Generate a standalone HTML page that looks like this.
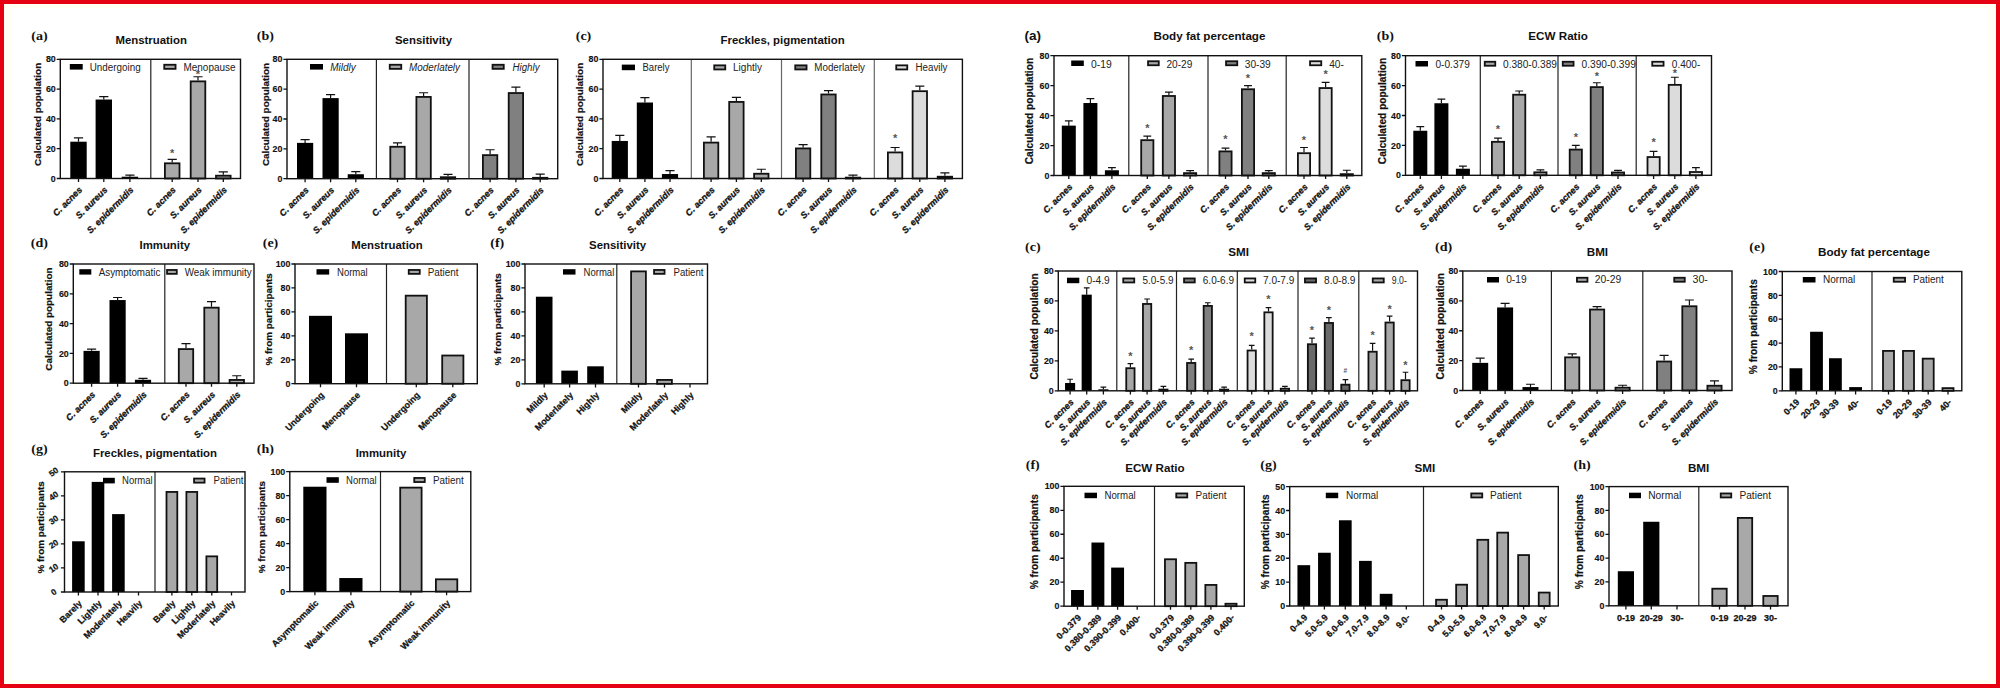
<!DOCTYPE html>
<html lang="en">
<head>
<meta charset="utf-8">
<title>Skin microbiome charts</title>
<style>
html,body{margin:0;padding:0;background:#fff;}
body{width:2000px;height:688px;overflow:hidden;position:relative;font-family:"Liberation Sans", Arial, Helvetica, sans-serif;}
#wrap{position:absolute;left:0;top:0;width:2000px;height:688px;box-sizing:border-box;border:4px solid #e50012;background:#fff;
 box-shadow:inset 0 0 0 4px #fffff4, inset 8px 0 0 0 #fffff6, inset -8px 0 0 0 #fffff6;}
svg{position:absolute;left:0;top:0;}
text{font-family:"Liberation Sans", Arial, Helvetica, sans-serif;fill:#111;}
.ls{font-family:"Liberation Serif", "Times New Roman", serif;font-weight:bold;font-size:12.8px;}
.lsa{font-weight:bold;font-size:13.5px;}
.tt{font-weight:bold;font-size:11.4px;text-anchor:middle;}
.ttr{font-size:11.65px;}
.tk{font-weight:bold;font-size:9.4px;text-anchor:end;stroke:#111;stroke-width:0.15;}
.tkr{font-weight:bold;font-size:8.4px;text-anchor:middle;stroke:#111;stroke-width:0.25;}
.yl{font-weight:bold;font-size:9.9px;text-anchor:middle;stroke:#111;stroke-width:0.2;}
.ylr{font-size:10.2px;}
.lg{font-size:10.0px;fill:#222;}
.lgi{font-size:10.0px;fill:#222;font-style:italic;}
.xb{font-weight:bold;font-size:9.0px;stroke:#111;stroke-width:0.25;}
.xbi{font-weight:bold;font-style:italic;font-size:9.0px;stroke:#111;stroke-width:0.3;}
.st{font-size:11px;font-weight:bold;text-anchor:middle;fill:#555;}
.sh{font-size:6.5px;}
.fr{fill:none;stroke:#111;stroke-width:1.4;}
.tc{fill:none;stroke:#111;stroke-width:1.3;}
.er{fill:none;stroke:#111;stroke-width:1.2;}
.bs{stroke:#111;stroke-width:1.8;}
</style>
</head>
<body>
<div id="wrap"></div>
<svg width="2000" height="688" viewBox="0 0 2000 688">
<g>
<text transform="translate(31.2 40) scale(1.1 1)" class="ls">(a)</text>
<text x="151.2" y="44" class="tt">Menstruation</text>
<path d="M78.5 141.7V137.97M73.91 137.97H83.09" class="er"/>
<rect x="70.3" y="141.7" width="16.4" height="36.8" fill="#000"/>
<path d="M103.8 99.53V96.55M99.21 96.55H108.39" class="er"/>
<rect x="95.6" y="99.53" width="16.4" height="78.97" fill="#000"/>
<path d="M129.9 176.71V175.22M125.31 175.22H134.49" class="er"/>
<rect x="121.7" y="176.71" width="16.4" height="1.79" fill="#000"/>
<path d="M172.2 162.41V159.43M167.61 159.43H176.79" class="er"/>
<rect x="164.9" y="163.31" width="14.6" height="15.19" fill="#a8a8a8" class="bs"/>
<text x="172.2" y="156.8" class="st">*</text>
<path d="M198 80.46V76.73M193.41 76.73H202.59" class="er"/>
<rect x="190.7" y="81.36" width="14.6" height="97.14" fill="#a8a8a8" class="bs"/>
<text x="198" y="78.3" class="st">*</text>
<path d="M223.3 174.78V171.8M218.71 171.8H227.89" class="er"/>
<rect x="216" y="175.68" width="14.6" height="2.82" fill="#a8a8a8" class="bs"/>
<path d="M150.8 59.3V178.5" stroke="#222" stroke-width="1.2" fill="none"/>
<rect x="60.3" y="59.3" width="180.2" height="119.2" class="fr"/>
<text transform="translate(55.7 181.65) scale(0.94 1)" class="tk">0</text>
<text transform="translate(55.7 151.85) scale(0.94 1)" class="tk">20</text>
<text transform="translate(55.7 122.05) scale(0.94 1)" class="tk">40</text>
<text transform="translate(55.7 92.25) scale(0.94 1)" class="tk">60</text>
<text transform="translate(55.7 62.45) scale(0.94 1)" class="tk">80</text>
<path d="M56.7 178.5H60.3M56.7 148.7H60.3M56.7 118.9H60.3M56.7 89.1H60.3M56.7 59.3H60.3M78.5 178.5V182.1M103.8 178.5V182.1M129.9 178.5V182.1M172.2 178.5V182.1M198 178.5V182.1M223.3 178.5V182.1" class="tc"/>
<text transform="translate(41 114.4) rotate(-90)" class="yl">Calculated population</text>
<rect x="69.8" y="64" width="12.9" height="5.6" fill="#000"/>
<text x="89.7" y="70.5" class="lg" textLength="51" lengthAdjust="spacingAndGlyphs">Undergoing</text>
<rect x="164.25" y="64.75" width="11.3" height="4.1" fill="#a8a8a8" class="bs"/>
<text x="183.5" y="70.5" class="lg" textLength="52" lengthAdjust="spacingAndGlyphs">Menopause</text>
<text transform="translate(82.7 190.5) rotate(-45)" class="xbi" text-anchor="end">C. acnes</text>
<text transform="translate(108 190.5) rotate(-45)" class="xbi" text-anchor="end">S. aureus</text>
<text transform="translate(134.1 190.5) rotate(-45)" class="xbi" text-anchor="end">S. epidermidis</text>
<text transform="translate(176.4 190.5) rotate(-45)" class="xbi" text-anchor="end">C. acnes</text>
<text transform="translate(202.2 190.5) rotate(-45)" class="xbi" text-anchor="end">S. aureus</text>
<text transform="translate(227.5 190.5) rotate(-45)" class="xbi" text-anchor="end">S. epidermidis</text>
</g>
<g>
<text transform="translate(256.7 40) scale(1.1 1)" class="ls">(b)</text>
<text x="423.5" y="44" class="tt">Sensitivity</text>
<path d="M305.1 142.88V139.6M300.56 139.6H309.64" class="er"/>
<rect x="297" y="142.88" width="16.2" height="35.82" fill="#000"/>
<path d="M330.6 98.1V94.67M326.06 94.67H335.14" class="er"/>
<rect x="322.5" y="98.1" width="16.2" height="80.59" fill="#000"/>
<path d="M355.8 174.22V171.69M351.26 171.69H360.34" class="er"/>
<rect x="347.7" y="174.22" width="16.2" height="4.48" fill="#000"/>
<path d="M397.5 145.86V142.88M392.96 142.88H402.04" class="er"/>
<rect x="390.3" y="146.76" width="14.4" height="31.94" fill="#a8a8a8" class="bs"/>
<path d="M423.6 96.02V92.73M419.06 92.73H428.14" class="er"/>
<rect x="416.4" y="96.92" width="14.4" height="81.78" fill="#a8a8a8" class="bs"/>
<path d="M448 176.31V174.37M443.46 174.37H452.54" class="er"/>
<rect x="440.8" y="177.21" width="14.4" height="1.49" fill="#a8a8a8" class="bs"/>
<path d="M490.1 154.22V149.75M485.56 149.75H494.64" class="er"/>
<rect x="482.9" y="155.12" width="14.4" height="23.58" fill="#808080" class="bs"/>
<path d="M515.9 92.13V87.21M511.36 87.21H520.44" class="er"/>
<rect x="508.7" y="93.03" width="14.4" height="85.66" fill="#808080" class="bs"/>
<path d="M540.2 176.91V174.22M535.66 174.22H544.74" class="er"/>
<rect x="533" y="177.81" width="14.4" height="0.89" fill="#808080" class="bs"/>
<path d="M376.4 59.3V178.7" stroke="#222" stroke-width="1.2" fill="none"/>
<path d="M469 59.3V178.7" stroke="#222" stroke-width="1.2" fill="none"/>
<rect x="287" y="59.3" width="270.7" height="119.4" class="fr"/>
<text transform="translate(282.4 181.85) scale(0.94 1)" class="tk">0</text>
<text transform="translate(282.4 152) scale(0.94 1)" class="tk">20</text>
<text transform="translate(282.4 122.15) scale(0.94 1)" class="tk">40</text>
<text transform="translate(282.4 92.3) scale(0.94 1)" class="tk">60</text>
<text transform="translate(282.4 62.45) scale(0.94 1)" class="tk">80</text>
<path d="M283.4 178.7H287M283.4 148.85H287M283.4 119H287M283.4 89.15H287M283.4 59.3H287M305.1 178.7V182.3M330.6 178.7V182.3M355.8 178.7V182.3M397.5 178.7V182.3M423.6 178.7V182.3M448 178.7V182.3M490.1 178.7V182.3M515.9 178.7V182.3M540.2 178.7V182.3" class="tc"/>
<text transform="translate(268.75 114.5) rotate(-90)" class="yl">Calculated population</text>
<rect x="310" y="64" width="13" height="5.6" fill="#000"/>
<text x="330.2" y="70.5" class="lgi" textLength="25.5" lengthAdjust="spacingAndGlyphs">Mildly</text>
<rect x="389.75" y="64.75" width="11.5" height="4.1" fill="#a8a8a8" class="bs"/>
<text x="409" y="70.5" class="lgi" textLength="51" lengthAdjust="spacingAndGlyphs">Moderlately</text>
<rect x="492.55" y="64.75" width="11.2" height="4.1" fill="#808080" class="bs"/>
<text x="512.5" y="70.5" class="lgi" textLength="27" lengthAdjust="spacingAndGlyphs">Highly</text>
<text transform="translate(309.3 190.7) rotate(-45)" class="xbi" text-anchor="end">C. acnes</text>
<text transform="translate(334.8 190.7) rotate(-45)" class="xbi" text-anchor="end">S. aureus</text>
<text transform="translate(360 190.7) rotate(-45)" class="xbi" text-anchor="end">S. epidermidis</text>
<text transform="translate(401.7 190.7) rotate(-45)" class="xbi" text-anchor="end">C. acnes</text>
<text transform="translate(427.8 190.7) rotate(-45)" class="xbi" text-anchor="end">S. aureus</text>
<text transform="translate(452.2 190.7) rotate(-45)" class="xbi" text-anchor="end">S. epidermidis</text>
<text transform="translate(494.3 190.7) rotate(-45)" class="xbi" text-anchor="end">C. acnes</text>
<text transform="translate(520.1 190.7) rotate(-45)" class="xbi" text-anchor="end">S. aureus</text>
<text transform="translate(544.4 190.7) rotate(-45)" class="xbi" text-anchor="end">S. epidermidis</text>
</g>
<g>
<text transform="translate(575.7 40) scale(1.1 1)" class="ls">(c)</text>
<text x="782.6" y="44" class="tt">Freckles, pigmentation</text>
<path d="M619.8 140.95V135.44M615.26 135.44H624.34" class="er"/>
<rect x="611.7" y="140.95" width="16.2" height="37.55" fill="#000"/>
<path d="M644.9 102.51V97.59M640.36 97.59H649.44" class="er"/>
<rect x="636.8" y="102.51" width="16.2" height="75.99" fill="#000"/>
<path d="M670 174.03V170.6M665.46 170.6H674.54" class="er"/>
<rect x="661.9" y="174.03" width="16.2" height="4.47" fill="#000"/>
<path d="M711.1 141.7V136.93M706.56 136.93H715.64" class="er"/>
<rect x="703.9" y="142.6" width="14.4" height="35.9" fill="#a8a8a8" class="bs"/>
<path d="M736.4 101.02V97.3M731.86 97.3H740.94" class="er"/>
<rect x="729.2" y="101.92" width="14.4" height="76.58" fill="#a8a8a8" class="bs"/>
<path d="M761.3 172.84V169.26M756.76 169.26H765.84" class="er"/>
<rect x="754.1" y="173.74" width="14.4" height="4.76" fill="#a8a8a8" class="bs"/>
<path d="M803.1 147.51V144.53M798.56 144.53H807.64" class="er"/>
<rect x="795.9" y="148.41" width="14.4" height="30.09" fill="#808080" class="bs"/>
<path d="M828.5 93.57V90.59M823.96 90.59H833.04" class="er"/>
<rect x="821.3" y="94.47" width="14.4" height="84.03" fill="#808080" class="bs"/>
<path d="M853 176.71V175.22M848.46 175.22H857.54" class="er"/>
<rect x="845.8" y="177.61" width="14.4" height="0.89" fill="#808080" class="bs"/>
<path d="M895.1 151.53V147.51M890.56 147.51H899.64" class="er"/>
<rect x="887.9" y="152.43" width="14.4" height="26.07" fill="#dcdcdc" class="bs"/>
<text x="895.1" y="142.1" class="st">*</text>
<path d="M919.8 90.29V86.12M915.26 86.12H924.34" class="er"/>
<rect x="912.6" y="91.19" width="14.4" height="87.31" fill="#dcdcdc" class="bs"/>
<path d="M944.9 175.82V172.84M940.36 172.84H949.44" class="er"/>
<rect x="937.7" y="176.72" width="14.4" height="1.78" fill="#dcdcdc" class="bs"/>
<path d="M691.3 59.3V178.5" stroke="#666" stroke-width="1.2" fill="none"/>
<path d="M781.5 59.3V178.5" stroke="#666" stroke-width="1.2" fill="none"/>
<path d="M874.3 59.3V178.5" stroke="#666" stroke-width="1.2" fill="none"/>
<rect x="603" y="59.3" width="359.4" height="119.2" class="fr"/>
<text transform="translate(598.4 181.65) scale(0.94 1)" class="tk">0</text>
<text transform="translate(598.4 151.85) scale(0.94 1)" class="tk">20</text>
<text transform="translate(598.4 122.05) scale(0.94 1)" class="tk">40</text>
<text transform="translate(598.4 92.25) scale(0.94 1)" class="tk">60</text>
<text transform="translate(598.4 62.45) scale(0.94 1)" class="tk">80</text>
<path d="M599.4 178.5H603M599.4 148.7H603M599.4 118.9H603M599.4 89.1H603M599.4 59.3H603M619.8 178.5V182.1M644.9 178.5V182.1M670 178.5V182.1M711.1 178.5V182.1M736.4 178.5V182.1M761.3 178.5V182.1M803.1 178.5V182.1M828.5 178.5V182.1M853 178.5V182.1M895.1 178.5V182.1M919.8 178.5V182.1M944.9 178.5V182.1" class="tc"/>
<text transform="translate(582.5 114.4) rotate(-90)" class="yl">Calculated population</text>
<rect x="621.8" y="64.6" width="13.2" height="5.6" fill="#000"/>
<text x="642.5" y="71.1" class="lg" textLength="27" lengthAdjust="spacingAndGlyphs">Barely</text>
<rect x="714.25" y="65.35" width="11" height="4.1" fill="#a8a8a8" class="bs"/>
<text x="733" y="71.1" class="lg" textLength="29" lengthAdjust="spacingAndGlyphs">Lightly</text>
<rect x="795.25" y="65.35" width="11.3" height="4.1" fill="#808080" class="bs"/>
<text x="814.3" y="71.1" class="lg" textLength="50.7" lengthAdjust="spacingAndGlyphs">Moderlately</text>
<rect x="896.25" y="65.35" width="11" height="4.1" fill="#dcdcdc" class="bs"/>
<text x="915.5" y="71.1" class="lg" textLength="32" lengthAdjust="spacingAndGlyphs">Heavily</text>
<text transform="translate(624 190.5) rotate(-45)" class="xbi" text-anchor="end">C. acnes</text>
<text transform="translate(649.1 190.5) rotate(-45)" class="xbi" text-anchor="end">S. aureus</text>
<text transform="translate(674.2 190.5) rotate(-45)" class="xbi" text-anchor="end">S. epidermidis</text>
<text transform="translate(715.3 190.5) rotate(-45)" class="xbi" text-anchor="end">C. acnes</text>
<text transform="translate(740.6 190.5) rotate(-45)" class="xbi" text-anchor="end">S. aureus</text>
<text transform="translate(765.5 190.5) rotate(-45)" class="xbi" text-anchor="end">S. epidermidis</text>
<text transform="translate(807.3 190.5) rotate(-45)" class="xbi" text-anchor="end">C. acnes</text>
<text transform="translate(832.7 190.5) rotate(-45)" class="xbi" text-anchor="end">S. aureus</text>
<text transform="translate(857.2 190.5) rotate(-45)" class="xbi" text-anchor="end">S. epidermidis</text>
<text transform="translate(899.3 190.5) rotate(-45)" class="xbi" text-anchor="end">C. acnes</text>
<text transform="translate(924 190.5) rotate(-45)" class="xbi" text-anchor="end">S. aureus</text>
<text transform="translate(949.1 190.5) rotate(-45)" class="xbi" text-anchor="end">S. epidermidis</text>
</g>
<g>
<text transform="translate(30.8 247.1) scale(1.1 1)" class="ls">(d)</text>
<text x="164.8" y="249" class="tt">Immunity</text>
<path d="M91.6 350.87V349.08M87.06 349.08H96.14" class="er"/>
<rect x="83.5" y="350.87" width="16.2" height="32.33" fill="#000"/>
<path d="M117.6 300.06V297.52M113.06 297.52H122.14" class="er"/>
<rect x="109.5" y="300.06" width="16.2" height="83.14" fill="#000"/>
<path d="M143 379.77V378.28M138.46 378.28H147.54" class="er"/>
<rect x="134.9" y="379.77" width="16.2" height="3.43" fill="#000"/>
<path d="M186 348.19V343.72M181.46 343.72H190.54" class="er"/>
<rect x="178.8" y="349.08" width="14.4" height="34.11" fill="#a8a8a8" class="bs"/>
<path d="M211.5 306.76V301.55M206.96 301.55H216.04" class="er"/>
<rect x="204.3" y="307.66" width="14.4" height="75.54" fill="#a8a8a8" class="bs"/>
<path d="M236.8 379.03V375.75M232.26 375.75H241.34" class="er"/>
<rect x="229.6" y="379.93" width="14.4" height="3.27" fill="#a8a8a8" class="bs"/>
<path d="M164.8 264V383.2" stroke="#222" stroke-width="1.2" fill="none"/>
<rect x="73.3" y="264" width="180.7" height="119.2" class="fr"/>
<text transform="translate(68.7 386.35) scale(0.94 1)" class="tk">0</text>
<text transform="translate(68.7 356.55) scale(0.94 1)" class="tk">20</text>
<text transform="translate(68.7 326.75) scale(0.94 1)" class="tk">40</text>
<text transform="translate(68.7 296.95) scale(0.94 1)" class="tk">60</text>
<text transform="translate(68.7 267.15) scale(0.94 1)" class="tk">80</text>
<path d="M69.7 383.2H73.3M69.7 353.4H73.3M69.7 323.6H73.3M69.7 293.8H73.3M69.7 264H73.3M91.6 383.2V386.8M117.6 383.2V386.8M143 383.2V386.8M186 383.2V386.8M211.5 383.2V386.8M236.8 383.2V386.8" class="tc"/>
<text transform="translate(52.25 319.1) rotate(-90)" class="yl">Calculated population</text>
<rect x="79.3" y="269.2" width="12" height="5.4" fill="#000"/>
<text x="98.7" y="275.5" class="lg" textLength="61.6" lengthAdjust="spacingAndGlyphs">Asymptomatic</text>
<rect x="167.05" y="269.95" width="9.7" height="3.9" fill="#a8a8a8" class="bs"/>
<text x="184.7" y="275.5" class="lg" textLength="67" lengthAdjust="spacingAndGlyphs">Weak immunity</text>
<text transform="translate(95.8 395.2) rotate(-45)" class="xbi" text-anchor="end">C. acnes</text>
<text transform="translate(121.8 395.2) rotate(-45)" class="xbi" text-anchor="end">S. aureus</text>
<text transform="translate(147.2 395.2) rotate(-45)" class="xbi" text-anchor="end">S. epidermidis</text>
<text transform="translate(190.2 395.2) rotate(-45)" class="xbi" text-anchor="end">C. acnes</text>
<text transform="translate(215.7 395.2) rotate(-45)" class="xbi" text-anchor="end">S. aureus</text>
<text transform="translate(241 395.2) rotate(-45)" class="xbi" text-anchor="end">S. epidermidis</text>
</g>
<g>
<text transform="translate(262.7 247.1) scale(1.1 1)" class="ls">(e)</text>
<text x="387" y="249" class="tt">Menstruation</text>
<rect x="309" y="315.83" width="23" height="67.87" fill="#000"/>
<rect x="345" y="333.31" width="23" height="50.39" fill="#000"/>
<rect x="405.7" y="295.66" width="21.2" height="88.04" fill="#a8a8a8" class="bs"/>
<rect x="442.2" y="355.51" width="21.2" height="28.19" fill="#a8a8a8" class="bs"/>
<path d="M386.5 264V383.7" stroke="#222" stroke-width="1.2" fill="none"/>
<rect x="295" y="264" width="182.3" height="119.7" class="fr"/>
<text transform="translate(290.4 386.85) scale(0.94 1)" class="tk">0</text>
<text transform="translate(290.4 362.91) scale(0.94 1)" class="tk">20</text>
<text transform="translate(290.4 338.97) scale(0.94 1)" class="tk">40</text>
<text transform="translate(290.4 315.03) scale(0.94 1)" class="tk">60</text>
<text transform="translate(290.4 291.09) scale(0.94 1)" class="tk">80</text>
<text transform="translate(290.4 267.15) scale(0.94 1)" class="tk">100</text>
<path d="M291.4 383.7H295M291.4 359.76H295M291.4 335.82H295M291.4 311.88H295M291.4 287.94H295M291.4 264H295M320.5 383.7V387.3M356.5 383.7V387.3M416.3 383.7V387.3M452.8 383.7V387.3" class="tc"/>
<text transform="translate(271.7 319.35) rotate(-90)" class="yl">% from participants</text>
<rect x="316.5" y="269.2" width="12.7" height="5.4" fill="#000"/>
<text x="337" y="275.5" class="lg" textLength="30.7" lengthAdjust="spacingAndGlyphs">Normal</text>
<rect x="408.75" y="269.95" width="11" height="3.9" fill="#a8a8a8" class="bs"/>
<text x="427.7" y="275.5" class="lg" textLength="30.8" lengthAdjust="spacingAndGlyphs">Patient</text>
<text transform="translate(324.7 395.7) rotate(-45)" class="xb" text-anchor="end">Undergoing</text>
<text transform="translate(360.7 395.7) rotate(-45)" class="xb" text-anchor="end">Menopause</text>
<text transform="translate(420.5 395.7) rotate(-45)" class="xb" text-anchor="end">Undergoing</text>
<text transform="translate(457 395.7) rotate(-45)" class="xb" text-anchor="end">Menopause</text>
</g>
<g>
<text transform="translate(490.2 247.1) scale(1.1 1)" class="ls">(f)</text>
<text x="617.6" y="249" class="tt">Sensitivity</text>
<rect x="535.9" y="296.71" width="16.6" height="87.09" fill="#000"/>
<rect x="561.3" y="370.62" width="16.6" height="13.18" fill="#000"/>
<rect x="587.2" y="366.31" width="16.6" height="17.49" fill="#000"/>
<rect x="631.1" y="271.37" width="14.8" height="112.43" fill="#a8a8a8" class="bs"/>
<rect x="657.1" y="379.91" width="14.8" height="3.89" fill="#a8a8a8" class="bs"/>
<path d="M616.8 264V383.8" stroke="#222" stroke-width="1.2" fill="none"/>
<rect x="525" y="264" width="182.5" height="119.8" class="fr"/>
<text transform="translate(520.4 386.95) scale(0.94 1)" class="tk">0</text>
<text transform="translate(520.4 362.99) scale(0.94 1)" class="tk">20</text>
<text transform="translate(520.4 339.03) scale(0.94 1)" class="tk">40</text>
<text transform="translate(520.4 315.07) scale(0.94 1)" class="tk">60</text>
<text transform="translate(520.4 291.11) scale(0.94 1)" class="tk">80</text>
<text transform="translate(520.4 267.15) scale(0.94 1)" class="tk">100</text>
<path d="M521.4 383.8H525M521.4 359.84H525M521.4 335.88H525M521.4 311.92H525M521.4 287.96H525M521.4 264H525M544.2 383.8V387.4M569.6 383.8V387.4M595.5 383.8V387.4M638.5 383.8V387.4M664.5 383.8V387.4M690 383.8V387.4" class="tc"/>
<text transform="translate(501 319.4) rotate(-90)" class="yl">% from participants</text>
<rect x="563" y="269.2" width="12.5" height="5.4" fill="#000"/>
<text x="583.5" y="275.5" class="lg" textLength="30.8" lengthAdjust="spacingAndGlyphs">Normal</text>
<rect x="654.05" y="269.95" width="10.5" height="3.9" fill="#a8a8a8" class="bs"/>
<text x="673.5" y="275.5" class="lg" textLength="30" lengthAdjust="spacingAndGlyphs">Patient</text>
<text transform="translate(548.4 395.8) rotate(-45)" class="xb" text-anchor="end">Mildly</text>
<text transform="translate(573.8 395.8) rotate(-45)" class="xb" text-anchor="end">Moderlately</text>
<text transform="translate(599.7 395.8) rotate(-45)" class="xb" text-anchor="end">Highly</text>
<text transform="translate(642.7 395.8) rotate(-45)" class="xb" text-anchor="end">Mildly</text>
<text transform="translate(668.7 395.8) rotate(-45)" class="xb" text-anchor="end">Moderlately</text>
<text transform="translate(694.2 395.8) rotate(-45)" class="xb" text-anchor="end">Highly</text>
</g>
<g>
<text transform="translate(31.2 452.5) scale(1.1 1)" class="ls">(g)</text>
<text x="155" y="457" class="tt">Freckles, pigmentation</text>
<rect x="72.1" y="541.28" width="12.6" height="50.72" fill="#000"/>
<rect x="91.7" y="481.9" width="12.6" height="110.1" fill="#000"/>
<rect x="112.1" y="514.11" width="12.6" height="77.89" fill="#000"/>
<rect x="166.5" y="491.93" width="10.8" height="100.07" fill="#a8a8a8" class="bs"/>
<rect x="186.4" y="491.93" width="10.8" height="100.07" fill="#a8a8a8" class="bs"/>
<rect x="206.4" y="556.36" width="10.8" height="35.64" fill="#a8a8a8" class="bs"/>
<path d="M155 471.8V592" stroke="#222" stroke-width="1.2" fill="none"/>
<rect x="64.5" y="471.8" width="180.5" height="120.2" class="fr"/>
<text transform="translate(53.6 592) rotate(-35)" class="tkr" dy="3.0">0</text>
<text transform="translate(53.6 567.96) rotate(-35)" class="tkr" dy="3.0">10</text>
<text transform="translate(53.6 543.92) rotate(-35)" class="tkr" dy="3.0">20</text>
<text transform="translate(53.6 519.88) rotate(-35)" class="tkr" dy="3.0">30</text>
<text transform="translate(53.6 495.84) rotate(-35)" class="tkr" dy="3.0">40</text>
<text transform="translate(53.6 471.8) rotate(-35)" class="tkr" dy="3.0">50</text>
<path d="M60.9 592H64.5M60.9 567.96H64.5M60.9 543.92H64.5M60.9 519.88H64.5M60.9 495.84H64.5M60.9 471.8H64.5M78.4 592V595.6M98 592V595.6M118.4 592V595.6M138.5 592V595.6M171.9 592V595.6M191.8 592V595.6M211.8 592V595.6M231.5 592V595.6" class="tc"/>
<text transform="translate(44.3 527.4) rotate(-90)" class="yl">% from participants</text>
<rect x="103" y="477.8" width="11.8" height="5.6" fill="#000"/>
<text x="122" y="484.3" class="lg" textLength="30.7" lengthAdjust="spacingAndGlyphs">Normal</text>
<rect x="194.05" y="478.55" width="10.5" height="4.1" fill="#a8a8a8" class="bs"/>
<text x="213.5" y="484.3" class="lg" textLength="30" lengthAdjust="spacingAndGlyphs">Patient</text>
<text transform="translate(82.6 604) rotate(-45)" class="xb" text-anchor="end">Barely</text>
<text transform="translate(102.2 604) rotate(-45)" class="xb" text-anchor="end">Lightly</text>
<text transform="translate(122.6 604) rotate(-45)" class="xb" text-anchor="end">Moderlately</text>
<text transform="translate(142.7 604) rotate(-45)" class="xb" text-anchor="end">Heavily</text>
<text transform="translate(176.1 604) rotate(-45)" class="xb" text-anchor="end">Barely</text>
<text transform="translate(196 604) rotate(-45)" class="xb" text-anchor="end">Lightly</text>
<text transform="translate(216 604) rotate(-45)" class="xb" text-anchor="end">Moderlately</text>
<text transform="translate(235.7 604) rotate(-45)" class="xb" text-anchor="end">Heavily</text>
</g>
<g>
<text transform="translate(256.7 452.5) scale(1.1 1)" class="ls">(h)</text>
<text x="381" y="456.7" class="tt">Immunity</text>
<rect x="303.3" y="486.72" width="23.2" height="104.88" fill="#000"/>
<rect x="339.3" y="578.04" width="23.2" height="13.56" fill="#000"/>
<rect x="400.2" y="487.62" width="21.4" height="103.98" fill="#a8a8a8" class="bs"/>
<rect x="435.9" y="579.3" width="21.4" height="12.3" fill="#a8a8a8" class="bs"/>
<path d="M380.5 471.6V591.6" stroke="#222" stroke-width="1.2" fill="none"/>
<rect x="289.8" y="471.6" width="181" height="120" class="fr"/>
<text transform="translate(285.2 594.75) scale(0.94 1)" class="tk">0</text>
<text transform="translate(285.2 570.75) scale(0.94 1)" class="tk">20</text>
<text transform="translate(285.2 546.75) scale(0.94 1)" class="tk">40</text>
<text transform="translate(285.2 522.75) scale(0.94 1)" class="tk">60</text>
<text transform="translate(285.2 498.75) scale(0.94 1)" class="tk">80</text>
<text transform="translate(285.2 474.75) scale(0.94 1)" class="tk">100</text>
<path d="M286.2 591.6H289.8M286.2 567.6H289.8M286.2 543.6H289.8M286.2 519.6H289.8M286.2 495.6H289.8M286.2 471.6H289.8M314.9 591.6V595.2M350.9 591.6V595.2M410.9 591.6V595.2M446.6 591.6V595.2" class="tc"/>
<text transform="translate(265 527.1) rotate(-90)" class="yl">% from participants</text>
<rect x="326.5" y="477.2" width="12.3" height="5.6" fill="#000"/>
<text x="346" y="483.7" class="lg" textLength="30.7" lengthAdjust="spacingAndGlyphs">Normal</text>
<rect x="414.25" y="477.95" width="10.5" height="4.1" fill="#a8a8a8" class="bs"/>
<text x="433" y="483.7" class="lg" textLength="30.7" lengthAdjust="spacingAndGlyphs">Patient</text>
<text transform="translate(319.1 603.6) rotate(-45)" class="xb" text-anchor="end">Asymptomatic</text>
<text transform="translate(355.1 603.6) rotate(-45)" class="xb" text-anchor="end">Weak immunity</text>
<text transform="translate(415.1 603.6) rotate(-45)" class="xb" text-anchor="end">Asymptomatic</text>
<text transform="translate(450.8 603.6) rotate(-45)" class="xb" text-anchor="end">Weak immunity</text>
</g>
<g>
<text x="1024.5" y="40.2" class="lsa">(a)</text>
<text x="1209.5" y="40.3" class="tt ttr">Body fat percentage</text>
<path d="M1068.8 125.63V120.84M1064.88 120.84H1072.72" class="er"/>
<rect x="1061.8" y="125.63" width="14" height="49.87" fill="#000"/>
<path d="M1090.4 103.02V98.53M1086.48 98.53H1094.32" class="er"/>
<rect x="1083.4" y="103.02" width="14" height="72.48" fill="#000"/>
<path d="M1111.9 170.26V167.71M1107.98 167.71H1115.82" class="er"/>
<rect x="1104.9" y="170.26" width="14" height="5.24" fill="#000"/>
<path d="M1147.3 139.26V136.12M1143.38 136.12H1151.22" class="er"/>
<rect x="1141.2" y="140.16" width="12.2" height="35.34" fill="#a8a8a8" class="bs"/>
<text x="1147.3" y="131.6" class="st">*</text>
<path d="M1168.9 95.08V92.09M1164.98 92.09H1172.82" class="er"/>
<rect x="1162.8" y="95.98" width="12.2" height="79.52" fill="#a8a8a8" class="bs"/>
<path d="M1190.1 172.21V170.56M1186.18 170.56H1194.02" class="er"/>
<rect x="1184" y="173.11" width="12.2" height="2.39" fill="#a8a8a8" class="bs"/>
<path d="M1225.5 150.49V148.1M1221.58 148.1H1229.42" class="er"/>
<rect x="1219.4" y="151.39" width="12.2" height="24.11" fill="#808080" class="bs"/>
<text x="1225.5" y="143" class="st">*</text>
<path d="M1248 88.35V85.65M1244.08 85.65H1251.92" class="er"/>
<rect x="1241.9" y="89.25" width="12.2" height="86.25" fill="#808080" class="bs"/>
<text x="1248" y="81.6" class="st">*</text>
<path d="M1268.8 172.21V170.56M1264.88 170.56H1272.72" class="er"/>
<rect x="1262.7" y="173.11" width="12.2" height="2.39" fill="#808080" class="bs"/>
<path d="M1304 152.29V147.5M1300.08 147.5H1307.92" class="er"/>
<rect x="1297.9" y="153.19" width="12.2" height="22.31" fill="#dcdcdc" class="bs"/>
<text x="1304" y="144.1" class="st">*</text>
<path d="M1325.6 87.15V82.36M1321.68 82.36H1329.52" class="er"/>
<rect x="1319.5" y="88.05" width="12.2" height="87.45" fill="#dcdcdc" class="bs"/>
<text x="1325.6" y="77.8" class="st">*</text>
<path d="M1346.8 173.25V170.26M1342.88 170.26H1350.72" class="er"/>
<rect x="1340.7" y="174.15" width="12.2" height="1.35" fill="#dcdcdc" class="bs"/>
<path d="M1128.8 55.7V175.5" stroke="#222" stroke-width="1.2" fill="none"/>
<path d="M1208 55.7V175.5" stroke="#222" stroke-width="1.2" fill="none"/>
<path d="M1286.2 55.7V175.5" stroke="#222" stroke-width="1.2" fill="none"/>
<rect x="1054" y="55.7" width="307.8" height="119.8" class="fr"/>
<text transform="translate(1049.4 178.65) scale(0.94 1)" class="tk">0</text>
<text transform="translate(1049.4 148.7) scale(0.94 1)" class="tk">20</text>
<text transform="translate(1049.4 118.75) scale(0.94 1)" class="tk">40</text>
<text transform="translate(1049.4 88.8) scale(0.94 1)" class="tk">60</text>
<text transform="translate(1049.4 58.85) scale(0.94 1)" class="tk">80</text>
<path d="M1050.4 175.5H1054M1050.4 145.55H1054M1050.4 115.6H1054M1050.4 85.65H1054M1050.4 55.7H1054M1068.8 175.5V179.1M1090.4 175.5V179.1M1111.9 175.5V179.1M1147.3 175.5V179.1M1168.9 175.5V179.1M1190.1 175.5V179.1M1225.5 175.5V179.1M1248 175.5V179.1M1268.8 175.5V179.1M1304 175.5V179.1M1325.6 175.5V179.1M1346.8 175.5V179.1" class="tc"/>
<text transform="translate(1032.6 111.1) rotate(-90)" class="yl ylr">Calculated population</text>
<rect x="1071.2" y="60.5" width="12.6" height="5.5" fill="#000"/>
<text x="1091" y="67.9" class="lg" textLength="20.7" lengthAdjust="spacingAndGlyphs">0-19</text>
<rect x="1148.05" y="61.25" width="10.7" height="4" fill="#a8a8a8" class="bs"/>
<text x="1166.5" y="67.9" class="lg" textLength="25.8" lengthAdjust="spacingAndGlyphs">20-29</text>
<rect x="1226.05" y="61.25" width="11.2" height="4" fill="#808080" class="bs"/>
<text x="1244.8" y="67.9" class="lg" textLength="25.9" lengthAdjust="spacingAndGlyphs">30-39</text>
<rect x="1310.05" y="61.25" width="11.2" height="4" fill="#dcdcdc" class="bs"/>
<text x="1329.2" y="67.9" class="lg" textLength="14.6" lengthAdjust="spacingAndGlyphs">40-</text>
<text transform="translate(1073 187.5) rotate(-45)" class="xbi" text-anchor="end">C. acnes</text>
<text transform="translate(1094.6 187.5) rotate(-45)" class="xbi" text-anchor="end">S. aureus</text>
<text transform="translate(1116.1 187.5) rotate(-45)" class="xbi" text-anchor="end">S. epidermidis</text>
<text transform="translate(1151.5 187.5) rotate(-45)" class="xbi" text-anchor="end">C. acnes</text>
<text transform="translate(1173.1 187.5) rotate(-45)" class="xbi" text-anchor="end">S. aureus</text>
<text transform="translate(1194.3 187.5) rotate(-45)" class="xbi" text-anchor="end">S. epidermidis</text>
<text transform="translate(1229.7 187.5) rotate(-45)" class="xbi" text-anchor="end">C. acnes</text>
<text transform="translate(1252.2 187.5) rotate(-45)" class="xbi" text-anchor="end">S. aureus</text>
<text transform="translate(1273 187.5) rotate(-45)" class="xbi" text-anchor="end">S. epidermidis</text>
<text transform="translate(1308.2 187.5) rotate(-45)" class="xbi" text-anchor="end">C. acnes</text>
<text transform="translate(1329.8 187.5) rotate(-45)" class="xbi" text-anchor="end">S. aureus</text>
<text transform="translate(1351 187.5) rotate(-45)" class="xbi" text-anchor="end">S. epidermidis</text>
</g>
<g>
<text transform="translate(1376.7 39.5) scale(1.1 1)" class="ls">(b)</text>
<text x="1558.1" y="40.3" class="tt ttr">ECW Ratio</text>
<path d="M1420.3 130.75V126.71M1416.38 126.71H1424.22" class="er"/>
<rect x="1413.3" y="130.75" width="14" height="44.55" fill="#000"/>
<path d="M1441.4 103.24V99.2M1437.48 99.2H1445.32" class="er"/>
<rect x="1434.4" y="103.24" width="14" height="72.06" fill="#000"/>
<path d="M1462.9 168.72V166.18M1458.98 166.18H1466.82" class="er"/>
<rect x="1455.9" y="168.72" width="14" height="6.58" fill="#000"/>
<path d="M1498 140.92V138.22M1494.08 138.22H1501.92" class="er"/>
<rect x="1491.9" y="141.82" width="12.2" height="33.48" fill="#a8a8a8" class="bs"/>
<text x="1498" y="132.8" class="st">*</text>
<path d="M1519.2 93.82V90.98M1515.28 90.98H1523.12" class="er"/>
<rect x="1513.1" y="94.72" width="12.2" height="80.58" fill="#a8a8a8" class="bs"/>
<path d="M1540.4 171.41V169.92M1536.48 169.92H1544.32" class="er"/>
<rect x="1534.3" y="172.31" width="12.2" height="2.99" fill="#a8a8a8" class="bs"/>
<path d="M1575.8 148.69V145.4M1571.88 145.4H1579.72" class="er"/>
<rect x="1569.7" y="149.59" width="12.2" height="25.71" fill="#808080" class="bs"/>
<text x="1575.8" y="141.1" class="st">*</text>
<path d="M1596.8 86.2V82.76M1592.88 82.76H1600.72" class="er"/>
<rect x="1590.7" y="87.1" width="12.2" height="88.2" fill="#808080" class="bs"/>
<text x="1596.8" y="80.1" class="st">*</text>
<path d="M1618 171.56V170.37M1614.08 170.37H1621.92" class="er"/>
<rect x="1611.9" y="172.46" width="12.2" height="2.84" fill="#808080" class="bs"/>
<path d="M1653.6 156.16V151.38M1649.68 151.38H1657.52" class="er"/>
<rect x="1647.5" y="157.06" width="12.2" height="18.24" fill="#dcdcdc" class="bs"/>
<text x="1653.6" y="145.6" class="st">*</text>
<path d="M1674.8 83.96V77.23M1670.88 77.23H1678.72" class="er"/>
<rect x="1668.7" y="84.86" width="12.2" height="90.44" fill="#dcdcdc" class="bs"/>
<text x="1674.8" y="76.8" class="st">*</text>
<path d="M1695.9 171.11V167.68M1691.98 167.68H1699.82" class="er"/>
<rect x="1689.8" y="172.01" width="12.2" height="3.29" fill="#dcdcdc" class="bs"/>
<path d="M1480.3 55.7V175.3" stroke="#222" stroke-width="1.2" fill="none"/>
<path d="M1558 55.7V175.3" stroke="#222" stroke-width="1.2" fill="none"/>
<path d="M1636.2 55.7V175.3" stroke="#222" stroke-width="1.2" fill="none"/>
<rect x="1405.5" y="55.7" width="306" height="119.6" class="fr"/>
<text transform="translate(1400.9 178.45) scale(0.94 1)" class="tk">0</text>
<text transform="translate(1400.9 148.55) scale(0.94 1)" class="tk">20</text>
<text transform="translate(1400.9 118.65) scale(0.94 1)" class="tk">40</text>
<text transform="translate(1400.9 88.75) scale(0.94 1)" class="tk">60</text>
<text transform="translate(1400.9 58.85) scale(0.94 1)" class="tk">80</text>
<path d="M1401.9 175.3H1405.5M1401.9 145.4H1405.5M1401.9 115.5H1405.5M1401.9 85.6H1405.5M1401.9 55.7H1405.5M1420.3 175.3V178.9M1441.4 175.3V178.9M1462.9 175.3V178.9M1498 175.3V178.9M1519.2 175.3V178.9M1540.4 175.3V178.9M1575.8 175.3V178.9M1596.8 175.3V178.9M1618 175.3V178.9M1653.6 175.3V178.9M1674.8 175.3V178.9M1695.9 175.3V178.9" class="tc"/>
<text transform="translate(1385.75 111) rotate(-90)" class="yl ylr">Calculated population</text>
<rect x="1415.5" y="61" width="12.5" height="5.5" fill="#000"/>
<text x="1435.5" y="68.4" class="lg" textLength="34.3" lengthAdjust="spacingAndGlyphs">0-0.379</text>
<rect x="1484.75" y="61.75" width="10.5" height="4" fill="#a8a8a8" class="bs"/>
<text x="1503" y="68.4" class="lg" textLength="54" lengthAdjust="spacingAndGlyphs">0.380-0.389</text>
<rect x="1562.75" y="61.75" width="10.8" height="4" fill="#808080" class="bs"/>
<text x="1581.5" y="68.4" class="lg" textLength="54.3" lengthAdjust="spacingAndGlyphs">0.390-0.399</text>
<rect x="1652.25" y="61.75" width="11.3" height="4" fill="#dcdcdc" class="bs"/>
<text x="1671.8" y="68.4" class="lg" textLength="28.5" lengthAdjust="spacingAndGlyphs">0.400-</text>
<text transform="translate(1424.5 187.3) rotate(-45)" class="xbi" text-anchor="end">C. acnes</text>
<text transform="translate(1445.6 187.3) rotate(-45)" class="xbi" text-anchor="end">S. aureus</text>
<text transform="translate(1467.1 187.3) rotate(-45)" class="xbi" text-anchor="end">S. epidermidis</text>
<text transform="translate(1502.2 187.3) rotate(-45)" class="xbi" text-anchor="end">C. acnes</text>
<text transform="translate(1523.4 187.3) rotate(-45)" class="xbi" text-anchor="end">S. aureus</text>
<text transform="translate(1544.6 187.3) rotate(-45)" class="xbi" text-anchor="end">S. epidermidis</text>
<text transform="translate(1580 187.3) rotate(-45)" class="xbi" text-anchor="end">C. acnes</text>
<text transform="translate(1601 187.3) rotate(-45)" class="xbi" text-anchor="end">S. aureus</text>
<text transform="translate(1622.2 187.3) rotate(-45)" class="xbi" text-anchor="end">S. epidermidis</text>
<text transform="translate(1657.8 187.3) rotate(-45)" class="xbi" text-anchor="end">C. acnes</text>
<text transform="translate(1679 187.3) rotate(-45)" class="xbi" text-anchor="end">S. aureus</text>
<text transform="translate(1700.1 187.3) rotate(-45)" class="xbi" text-anchor="end">S. epidermidis</text>
</g>
<g>
<text transform="translate(1025 251.2) scale(1.1 1)" class="ls">(c)</text>
<text x="1238.6" y="256" class="tt ttr">SMI</text>
<path d="M1070.1 383.01V379.27M1067.27 379.27H1072.93" class="er"/>
<rect x="1065.05" y="383.01" width="10.1" height="7.79" fill="#000"/>
<path d="M1086.7 294.66V287.92M1083.87 287.92H1089.53" class="er"/>
<rect x="1081.65" y="294.66" width="10.1" height="96.14" fill="#000"/>
<path d="M1103.4 389.3V387.06M1100.57 387.06H1106.23" class="er"/>
<rect x="1098.35" y="389.3" width="10.1" height="1.5" fill="#000"/>
<path d="M1130.4 367.29V363.55M1127.57 363.55H1133.23" class="er"/>
<rect x="1126.25" y="368.19" width="8.3" height="22.61" fill="#a8a8a8" class="bs"/>
<text x="1130.4" y="359.5" class="st">*</text>
<path d="M1147.1 303.05V299M1144.27 299H1149.93" class="er"/>
<rect x="1142.95" y="303.95" width="8.3" height="86.85" fill="#a8a8a8" class="bs"/>
<path d="M1163.4 388.7V386.46M1160.57 386.46H1166.23" class="er"/>
<rect x="1159.25" y="389.6" width="8.3" height="1.2" fill="#a8a8a8" class="bs"/>
<path d="M1191.2 362.05V359.05M1188.37 359.05H1194.03" class="er"/>
<rect x="1187.05" y="362.95" width="8.3" height="27.85" fill="#808080" class="bs"/>
<text x="1191.2" y="353.5" class="st">*</text>
<path d="M1207.8 304.99V302.75M1204.97 302.75H1210.63" class="er"/>
<rect x="1203.65" y="305.89" width="8.3" height="84.91" fill="#808080" class="bs"/>
<path d="M1224.1 388.7V387.21M1221.27 387.21H1226.93" class="er"/>
<rect x="1219.95" y="389.6" width="8.3" height="1.2" fill="#808080" class="bs"/>
<path d="M1251.7 349.62V345.28M1248.87 345.28H1254.53" class="er"/>
<rect x="1247.55" y="350.52" width="8.3" height="40.28" fill="#dcdcdc" class="bs"/>
<text x="1251.7" y="340.1" class="st">*</text>
<path d="M1268.5 311.43V307.69M1265.67 307.69H1271.33" class="er"/>
<rect x="1264.35" y="312.33" width="8.3" height="78.47" fill="#dcdcdc" class="bs"/>
<text x="1268.5" y="303" class="st">*</text>
<path d="M1284.9 387.81V386.31M1282.07 386.31H1287.73" class="er"/>
<rect x="1280.75" y="388.7" width="8.3" height="2.1" fill="#dcdcdc" class="bs"/>
<path d="M1312 343.33V338.09M1309.17 338.09H1314.83" class="er"/>
<rect x="1307.85" y="344.23" width="8.3" height="46.57" fill="#6a6a6a" class="bs"/>
<text x="1312" y="333.6" class="st">*</text>
<path d="M1328.9 322.06V317.57M1326.07 317.57H1331.73" class="er"/>
<rect x="1324.75" y="322.96" width="8.3" height="67.84" fill="#6a6a6a" class="bs"/>
<text x="1328.9" y="313.5" class="st">*</text>
<path d="M1345.4 383.76V379.72M1342.57 379.72H1348.23" class="er"/>
<rect x="1341.25" y="384.66" width="8.3" height="6.14" fill="#6a6a6a" class="bs"/>
<text x="1345.4" y="373.4" class="st sh">#</text>
<path d="M1372.6 350.82V343.33M1369.77 343.33H1375.43" class="er"/>
<rect x="1368.45" y="351.72" width="8.3" height="39.08" fill="#a8a8a8" class="bs"/>
<text x="1372.6" y="339.3" class="st">*</text>
<path d="M1389.6 321.62V316.07M1386.77 316.07H1392.43" class="er"/>
<rect x="1385.45" y="322.52" width="8.3" height="68.28" fill="#a8a8a8" class="bs"/>
<text x="1389.6" y="312.6" class="st">*</text>
<path d="M1405.5 379.27V372.23M1402.67 372.23H1408.33" class="er"/>
<rect x="1401.35" y="380.17" width="8.3" height="10.63" fill="#a8a8a8" class="bs"/>
<text x="1405.5" y="368.8" class="st">*</text>
<path d="M1116.8 271V390.8" stroke="#222" stroke-width="1.2" fill="none"/>
<path d="M1176.5 271V390.8" stroke="#222" stroke-width="1.2" fill="none"/>
<path d="M1237.3 271V390.8" stroke="#222" stroke-width="1.2" fill="none"/>
<path d="M1298 271V390.8" stroke="#222" stroke-width="1.2" fill="none"/>
<path d="M1358.8 271V390.8" stroke="#222" stroke-width="1.2" fill="none"/>
<rect x="1058.3" y="271" width="359.2" height="119.8" class="fr"/>
<text transform="translate(1053.7 393.95) scale(0.94 1)" class="tk">0</text>
<text transform="translate(1053.7 364) scale(0.94 1)" class="tk">20</text>
<text transform="translate(1053.7 334.05) scale(0.94 1)" class="tk">40</text>
<text transform="translate(1053.7 304.1) scale(0.94 1)" class="tk">60</text>
<text transform="translate(1053.7 274.15) scale(0.94 1)" class="tk">80</text>
<path d="M1054.7 390.8H1058.3M1054.7 360.85H1058.3M1054.7 330.9H1058.3M1054.7 300.95H1058.3M1054.7 271H1058.3M1070.1 390.8V394.4M1086.7 390.8V394.4M1103.4 390.8V394.4M1130.4 390.8V394.4M1147.1 390.8V394.4M1163.4 390.8V394.4M1191.2 390.8V394.4M1207.8 390.8V394.4M1224.1 390.8V394.4M1251.7 390.8V394.4M1268.5 390.8V394.4M1284.9 390.8V394.4M1312 390.8V394.4M1328.9 390.8V394.4M1345.4 390.8V394.4M1372.6 390.8V394.4M1389.6 390.8V394.4M1405.5 390.8V394.4" class="tc"/>
<text transform="translate(1037.75 326.4) rotate(-90)" class="yl ylr">Calculated population</text>
<rect x="1067" y="277.7" width="12.3" height="5.5" fill="#000"/>
<text x="1086.5" y="284.1" class="lg" textLength="23.3" lengthAdjust="spacingAndGlyphs">0-4.9</text>
<rect x="1123.25" y="278.45" width="11" height="4" fill="#a8a8a8" class="bs"/>
<text x="1142.5" y="284.1" class="lg" textLength="31" lengthAdjust="spacingAndGlyphs">5.0-5.9</text>
<rect x="1184.05" y="278.45" width="10.7" height="4" fill="#808080" class="bs"/>
<text x="1202.8" y="284.1" class="lg" textLength="31.2" lengthAdjust="spacingAndGlyphs">6.0-6.9</text>
<rect x="1244.75" y="278.45" width="10.5" height="4" fill="#dcdcdc" class="bs"/>
<text x="1263" y="284.1" class="lg" textLength="31.3" lengthAdjust="spacingAndGlyphs">7.0-7.9</text>
<rect x="1304.95" y="278.45" width="11.1" height="4" fill="#6a6a6a" class="bs"/>
<text x="1324" y="284.1" class="lg" textLength="31.5" lengthAdjust="spacingAndGlyphs">8.0-8.9</text>
<rect x="1372.75" y="278.45" width="11" height="4" fill="#a8a8a8" class="bs"/>
<text x="1391.8" y="284.1" class="lg" textLength="15" lengthAdjust="spacingAndGlyphs">9.0-</text>
<text transform="translate(1074.3 402.8) rotate(-45)" class="xbi" text-anchor="end">C. acnes</text>
<text transform="translate(1090.9 402.8) rotate(-45)" class="xbi" text-anchor="end">S. aureus</text>
<text transform="translate(1107.6 402.8) rotate(-45)" class="xbi" text-anchor="end">S. epidermidis</text>
<text transform="translate(1134.6 402.8) rotate(-45)" class="xbi" text-anchor="end">C. acnes</text>
<text transform="translate(1151.3 402.8) rotate(-45)" class="xbi" text-anchor="end">S. aureus</text>
<text transform="translate(1167.6 402.8) rotate(-45)" class="xbi" text-anchor="end">S. epidermidis</text>
<text transform="translate(1195.4 402.8) rotate(-45)" class="xbi" text-anchor="end">C. acnes</text>
<text transform="translate(1212 402.8) rotate(-45)" class="xbi" text-anchor="end">S. aureus</text>
<text transform="translate(1228.3 402.8) rotate(-45)" class="xbi" text-anchor="end">S. epidermidis</text>
<text transform="translate(1255.9 402.8) rotate(-45)" class="xbi" text-anchor="end">C. acnes</text>
<text transform="translate(1272.7 402.8) rotate(-45)" class="xbi" text-anchor="end">S. aureus</text>
<text transform="translate(1289.1 402.8) rotate(-45)" class="xbi" text-anchor="end">S. epidermidis</text>
<text transform="translate(1316.2 402.8) rotate(-45)" class="xbi" text-anchor="end">C. acnes</text>
<text transform="translate(1333.1 402.8) rotate(-45)" class="xbi" text-anchor="end">S. aureus</text>
<text transform="translate(1349.6 402.8) rotate(-45)" class="xbi" text-anchor="end">S. epidermidis</text>
<text transform="translate(1376.8 402.8) rotate(-45)" class="xbi" text-anchor="end">C. acnes</text>
<text transform="translate(1393.8 402.8) rotate(-45)" class="xbi" text-anchor="end">S. aureus</text>
<text transform="translate(1409.7 402.8) rotate(-45)" class="xbi" text-anchor="end">S. epidermidis</text>
</g>
<g>
<text transform="translate(1435 251.2) scale(1.1 1)" class="ls">(d)</text>
<text x="1597.4" y="255.5" class="tt ttr">BMI</text>
<path d="M1480.2 362.87V358.09M1475.72 358.09H1484.68" class="er"/>
<rect x="1472.2" y="362.87" width="16" height="27.63" fill="#000"/>
<path d="M1505.1 307.45V303.41M1500.62 303.41H1509.58" class="er"/>
<rect x="1497.1" y="307.45" width="16" height="83.05" fill="#000"/>
<path d="M1530.5 387.06V384.23M1526.02 384.23H1534.98" class="er"/>
<rect x="1522.5" y="387.06" width="16" height="3.44" fill="#000"/>
<path d="M1572.2 356.44V353.9M1567.72 353.9H1576.68" class="er"/>
<rect x="1565.1" y="357.34" width="14.2" height="33.16" fill="#a8a8a8" class="bs"/>
<path d="M1597.1 308.64V306.7M1592.62 306.7H1601.58" class="er"/>
<rect x="1590" y="309.54" width="14.2" height="80.96" fill="#a8a8a8" class="bs"/>
<path d="M1622.6 386.77V385.27M1618.12 385.27H1627.08" class="er"/>
<rect x="1615.5" y="387.67" width="14.2" height="2.83" fill="#a8a8a8" class="bs"/>
<path d="M1664.1 360.62V355.4M1659.62 355.4H1668.58" class="er"/>
<rect x="1657" y="361.52" width="14.2" height="28.98" fill="#808080" class="bs"/>
<path d="M1689.4 305.36V299.98M1684.92 299.98H1693.88" class="er"/>
<rect x="1682.3" y="306.26" width="14.2" height="84.24" fill="#808080" class="bs"/>
<path d="M1714.5 384.82V380.79M1710.02 380.79H1718.98" class="er"/>
<rect x="1707.4" y="385.72" width="14.2" height="4.78" fill="#808080" class="bs"/>
<path d="M1551.4 271V390.5" stroke="#222" stroke-width="1.2" fill="none"/>
<path d="M1642.8 271V390.5" stroke="#222" stroke-width="1.2" fill="none"/>
<rect x="1462.8" y="271" width="269.2" height="119.5" class="fr"/>
<text transform="translate(1458.2 393.65) scale(0.94 1)" class="tk">0</text>
<text transform="translate(1458.2 363.77) scale(0.94 1)" class="tk">20</text>
<text transform="translate(1458.2 333.9) scale(0.94 1)" class="tk">40</text>
<text transform="translate(1458.2 304.02) scale(0.94 1)" class="tk">60</text>
<text transform="translate(1458.2 274.15) scale(0.94 1)" class="tk">80</text>
<path d="M1459.2 390.5H1462.8M1459.2 360.62H1462.8M1459.2 330.75H1462.8M1459.2 300.88H1462.8M1459.2 271H1462.8M1480.2 390.5V394.1M1505.1 390.5V394.1M1530.5 390.5V394.1M1572.2 390.5V394.1M1597.1 390.5V394.1M1622.6 390.5V394.1M1664.1 390.5V394.1M1689.4 390.5V394.1M1714.5 390.5V394.1" class="tc"/>
<text transform="translate(1444 326.25) rotate(-90)" class="yl ylr">Calculated population</text>
<rect x="1487" y="277" width="12" height="5.5" fill="#000"/>
<text x="1506.2" y="283.4" class="lg" textLength="20.4" lengthAdjust="spacingAndGlyphs">0-19</text>
<rect x="1576.95" y="277.75" width="10.5" height="4" fill="#a8a8a8" class="bs"/>
<text x="1594.8" y="283.4" class="lg" textLength="26.4" lengthAdjust="spacingAndGlyphs">20-29</text>
<rect x="1674.25" y="277.75" width="10.5" height="4" fill="#808080" class="bs"/>
<text x="1692.5" y="283.4" class="lg" textLength="15.3" lengthAdjust="spacingAndGlyphs">30-</text>
<text transform="translate(1484.4 402.5) rotate(-45)" class="xbi" text-anchor="end">C. acnes</text>
<text transform="translate(1509.3 402.5) rotate(-45)" class="xbi" text-anchor="end">S. aureus</text>
<text transform="translate(1534.7 402.5) rotate(-45)" class="xbi" text-anchor="end">S. epidermidis</text>
<text transform="translate(1576.4 402.5) rotate(-45)" class="xbi" text-anchor="end">C. acnes</text>
<text transform="translate(1601.3 402.5) rotate(-45)" class="xbi" text-anchor="end">S. aureus</text>
<text transform="translate(1626.8 402.5) rotate(-45)" class="xbi" text-anchor="end">S. epidermidis</text>
<text transform="translate(1668.3 402.5) rotate(-45)" class="xbi" text-anchor="end">C. acnes</text>
<text transform="translate(1693.6 402.5) rotate(-45)" class="xbi" text-anchor="end">S. aureus</text>
<text transform="translate(1718.7 402.5) rotate(-45)" class="xbi" text-anchor="end">S. epidermidis</text>
</g>
<g>
<text transform="translate(1749.3 251.2) scale(1.1 1)" class="ls">(e)</text>
<text x="1874" y="256" class="tt ttr">Body fat percentage</text>
<rect x="1789.5" y="368.25" width="12.8" height="22.55" fill="#000"/>
<rect x="1810.1" y="331.75" width="12.8" height="59.05" fill="#000"/>
<rect x="1829" y="358.23" width="12.8" height="32.57" fill="#000"/>
<rect x="1849.2" y="387.1" width="12.8" height="3.7" fill="#000"/>
<rect x="1883" y="350.9" width="11" height="39.9" fill="#a8a8a8" class="bs"/>
<rect x="1903" y="350.9" width="11" height="39.9" fill="#a8a8a8" class="bs"/>
<rect x="1922.7" y="358.65" width="11" height="32.15" fill="#a8a8a8" class="bs"/>
<rect x="1942.5" y="388.12" width="11" height="2.68" fill="#a8a8a8" class="bs"/>
<path d="M1872 271.5V390.8" stroke="#222" stroke-width="1.2" fill="none"/>
<rect x="1782.3" y="271.5" width="179.5" height="119.3" class="fr"/>
<text transform="translate(1777.7 393.95) scale(0.94 1)" class="tk">0</text>
<text transform="translate(1777.7 370.09) scale(0.94 1)" class="tk">20</text>
<text transform="translate(1777.7 346.23) scale(0.94 1)" class="tk">40</text>
<text transform="translate(1777.7 322.37) scale(0.94 1)" class="tk">60</text>
<text transform="translate(1777.7 298.51) scale(0.94 1)" class="tk">80</text>
<text transform="translate(1777.7 274.65) scale(0.94 1)" class="tk">100</text>
<path d="M1778.7 390.8H1782.3M1778.7 366.94H1782.3M1778.7 343.08H1782.3M1778.7 319.22H1782.3M1778.7 295.36H1782.3M1778.7 271.5H1782.3M1795.9 390.8V394.4M1816.5 390.8V394.4M1835.4 390.8V394.4M1855.6 390.8V394.4M1888.5 390.8V394.4M1908.5 390.8V394.4M1928.2 390.8V394.4M1948 390.8V394.4" class="tc"/>
<text transform="translate(1757 326.65) rotate(-90)" class="yl ylr">% from participants</text>
<rect x="1802.8" y="277" width="12.7" height="5.5" fill="#000"/>
<text x="1823" y="283.4" class="lg" textLength="32.3" lengthAdjust="spacingAndGlyphs">Normal</text>
<rect x="1893.75" y="277.75" width="11.3" height="4" fill="#a8a8a8" class="bs"/>
<text x="1913" y="283.4" class="lg" textLength="30.8" lengthAdjust="spacingAndGlyphs">Patient</text>
<text transform="translate(1800.1 402.8) rotate(-45)" class="xb" text-anchor="end">0-19</text>
<text transform="translate(1820.7 402.8) rotate(-45)" class="xb" text-anchor="end">20-29</text>
<text transform="translate(1839.6 402.8) rotate(-45)" class="xb" text-anchor="end">30-39</text>
<text transform="translate(1859.8 402.8) rotate(-45)" class="xb" text-anchor="end">40-</text>
<text transform="translate(1892.7 402.8) rotate(-45)" class="xb" text-anchor="end">0-19</text>
<text transform="translate(1912.7 402.8) rotate(-45)" class="xb" text-anchor="end">20-29</text>
<text transform="translate(1932.4 402.8) rotate(-45)" class="xb" text-anchor="end">30-39</text>
<text transform="translate(1952.2 402.8) rotate(-45)" class="xb" text-anchor="end">40-</text>
</g>
<g>
<text transform="translate(1025.7 468.9) scale(1.1 1)" class="ls">(f)</text>
<text x="1154.9" y="471.7" class="tt ttr">ECW Ratio</text>
<rect x="1071.05" y="590.01" width="12.9" height="16.19" fill="#000"/>
<rect x="1091.45" y="542.53" width="12.9" height="63.67" fill="#000"/>
<rect x="1111.15" y="567.59" width="12.9" height="38.61" fill="#000"/>
<rect x="1164.95" y="559.26" width="11.1" height="46.94" fill="#a8a8a8" class="bs"/>
<rect x="1185.25" y="562.86" width="11.1" height="43.34" fill="#a8a8a8" class="bs"/>
<rect x="1205.35" y="584.92" width="11.1" height="21.28" fill="#a8a8a8" class="bs"/>
<rect x="1225.45" y="603.74" width="11.1" height="2.46" fill="#a8a8a8" class="bs"/>
<path d="M1154.5 486.3V606.2" stroke="#222" stroke-width="1.2" fill="none"/>
<rect x="1064" y="486.3" width="180.3" height="119.9" class="fr"/>
<text transform="translate(1059.4 609.35) scale(0.94 1)" class="tk">0</text>
<text transform="translate(1059.4 585.37) scale(0.94 1)" class="tk">20</text>
<text transform="translate(1059.4 561.39) scale(0.94 1)" class="tk">40</text>
<text transform="translate(1059.4 537.41) scale(0.94 1)" class="tk">60</text>
<text transform="translate(1059.4 513.43) scale(0.94 1)" class="tk">80</text>
<text transform="translate(1059.4 489.45) scale(0.94 1)" class="tk">100</text>
<path d="M1060.4 606.2H1064M1060.4 582.22H1064M1060.4 558.24H1064M1060.4 534.26H1064M1060.4 510.28H1064M1060.4 486.3H1064M1077.5 606.2V609.8M1097.9 606.2V609.8M1117.6 606.2V609.8M1137.2 606.2V609.8M1170.5 606.2V609.8M1190.8 606.2V609.8M1210.9 606.2V609.8M1231 606.2V609.8" class="tc"/>
<text transform="translate(1037.75 541.75) rotate(-90)" class="yl ylr">% from participants</text>
<rect x="1084.5" y="492.7" width="12.5" height="5.5" fill="#000"/>
<text x="1104.5" y="499.1" class="lg" textLength="31.2" lengthAdjust="spacingAndGlyphs">Normal</text>
<rect x="1176.25" y="493.45" width="11" height="4" fill="#a8a8a8" class="bs"/>
<text x="1195.5" y="499.1" class="lg" textLength="31" lengthAdjust="spacingAndGlyphs">Patient</text>
<text transform="translate(1081.7 618.2) rotate(-45)" class="xb" text-anchor="end">0-0.379</text>
<text transform="translate(1102.1 618.2) rotate(-45)" class="xb" text-anchor="end">0.380-0.389</text>
<text transform="translate(1121.8 618.2) rotate(-45)" class="xb" text-anchor="end">0.390-0.399</text>
<text transform="translate(1141.4 618.2) rotate(-45)" class="xb" text-anchor="end">0.400-</text>
<text transform="translate(1174.7 618.2) rotate(-45)" class="xb" text-anchor="end">0-0.379</text>
<text transform="translate(1195 618.2) rotate(-45)" class="xb" text-anchor="end">0.380-0.389</text>
<text transform="translate(1215.1 618.2) rotate(-45)" class="xb" text-anchor="end">0.390-0.399</text>
<text transform="translate(1235.2 618.2) rotate(-45)" class="xb" text-anchor="end">0.400-</text>
</g>
<g>
<text transform="translate(1260.2 468.9) scale(1.1 1)" class="ls">(g)</text>
<text x="1424.8" y="471.7" class="tt ttr">SMI</text>
<rect x="1297.45" y="565.17" width="12.7" height="40.83" fill="#000"/>
<rect x="1318.05" y="552.75" width="12.7" height="53.25" fill="#000"/>
<rect x="1338.95" y="520.27" width="12.7" height="85.73" fill="#000"/>
<rect x="1359.05" y="560.87" width="12.7" height="45.13" fill="#000"/>
<rect x="1379.75" y="593.82" width="12.7" height="12.18" fill="#000"/>
<rect x="1436.05" y="599.74" width="10.9" height="6.26" fill="#a8a8a8" class="bs"/>
<rect x="1456.15" y="584.69" width="10.9" height="21.31" fill="#a8a8a8" class="bs"/>
<rect x="1477.35" y="539.8" width="10.9" height="66.2" fill="#a8a8a8" class="bs"/>
<rect x="1497.25" y="532.63" width="10.9" height="73.37" fill="#a8a8a8" class="bs"/>
<rect x="1518.15" y="555.08" width="10.9" height="50.92" fill="#a8a8a8" class="bs"/>
<rect x="1538.75" y="592.57" width="10.9" height="13.43" fill="#a8a8a8" class="bs"/>
<path d="M1423.5 486.6V606" stroke="#222" stroke-width="1.2" fill="none"/>
<rect x="1289.7" y="486.6" width="268.6" height="119.4" class="fr"/>
<text transform="translate(1285.1 609.15) scale(0.94 1)" class="tk">0</text>
<text transform="translate(1285.1 585.27) scale(0.94 1)" class="tk">10</text>
<text transform="translate(1285.1 561.39) scale(0.94 1)" class="tk">20</text>
<text transform="translate(1285.1 537.51) scale(0.94 1)" class="tk">30</text>
<text transform="translate(1285.1 513.63) scale(0.94 1)" class="tk">40</text>
<text transform="translate(1285.1 489.75) scale(0.94 1)" class="tk">50</text>
<path d="M1286.1 606H1289.7M1286.1 582.12H1289.7M1286.1 558.24H1289.7M1286.1 534.36H1289.7M1286.1 510.48H1289.7M1286.1 486.6H1289.7M1303.8 606V609.6M1324.4 606V609.6M1345.3 606V609.6M1365.4 606V609.6M1386.1 606V609.6M1406.3 606V609.6M1441.5 606V609.6M1461.6 606V609.6M1482.8 606V609.6M1502.7 606V609.6M1523.6 606V609.6M1544.2 606V609.6" class="tc"/>
<text transform="translate(1269.2 541.8) rotate(-90)" class="yl ylr">% from participants</text>
<rect x="1325.8" y="492.7" width="12.4" height="5.5" fill="#000"/>
<text x="1346" y="499.1" class="lg" textLength="32.3" lengthAdjust="spacingAndGlyphs">Normal</text>
<rect x="1471.25" y="493.45" width="11" height="4" fill="#a8a8a8" class="bs"/>
<text x="1490" y="499.1" class="lg" textLength="31.5" lengthAdjust="spacingAndGlyphs">Patient</text>
<text transform="translate(1308 618) rotate(-45)" class="xb" text-anchor="end">0-4.9</text>
<text transform="translate(1328.6 618) rotate(-45)" class="xb" text-anchor="end">5.0-5.9</text>
<text transform="translate(1349.5 618) rotate(-45)" class="xb" text-anchor="end">6.0-6.9</text>
<text transform="translate(1369.6 618) rotate(-45)" class="xb" text-anchor="end">7.0-7.9</text>
<text transform="translate(1390.3 618) rotate(-45)" class="xb" text-anchor="end">8.0-8.9</text>
<text transform="translate(1410.5 618) rotate(-45)" class="xb" text-anchor="end">9.0-</text>
<text transform="translate(1445.7 618) rotate(-45)" class="xb" text-anchor="end">0-4.9</text>
<text transform="translate(1465.8 618) rotate(-45)" class="xb" text-anchor="end">5.0-5.9</text>
<text transform="translate(1487 618) rotate(-45)" class="xb" text-anchor="end">6.0-6.9</text>
<text transform="translate(1506.9 618) rotate(-45)" class="xb" text-anchor="end">7.0-7.9</text>
<text transform="translate(1527.8 618) rotate(-45)" class="xb" text-anchor="end">8.0-8.9</text>
<text transform="translate(1548.4 618) rotate(-45)" class="xb" text-anchor="end">9.0-</text>
</g>
<g>
<text transform="translate(1573.5 468.9) scale(1.1 1)" class="ls">(h)</text>
<text x="1698.6" y="471.7" class="tt ttr">BMI</text>
<rect x="1617.8" y="571.23" width="16.2" height="34.57" fill="#000"/>
<rect x="1643.2" y="521.76" width="16.2" height="84.04" fill="#000"/>
<rect x="1712.3" y="588.7" width="14.4" height="17.1" fill="#a8a8a8" class="bs"/>
<rect x="1737.8" y="517.9" width="14.4" height="87.9" fill="#a8a8a8" class="bs"/>
<rect x="1763.3" y="595.97" width="14.4" height="9.83" fill="#a8a8a8" class="bs"/>
<path d="M1698.8 486.6V605.8" stroke="#222" stroke-width="1.2" fill="none"/>
<rect x="1609" y="486.6" width="179" height="119.2" class="fr"/>
<text transform="translate(1604.4 608.95) scale(0.94 1)" class="tk">0</text>
<text transform="translate(1604.4 585.11) scale(0.94 1)" class="tk">20</text>
<text transform="translate(1604.4 561.27) scale(0.94 1)" class="tk">40</text>
<text transform="translate(1604.4 537.43) scale(0.94 1)" class="tk">60</text>
<text transform="translate(1604.4 513.59) scale(0.94 1)" class="tk">80</text>
<text transform="translate(1604.4 489.75) scale(0.94 1)" class="tk">100</text>
<path d="M1605.4 605.8H1609M1605.4 581.96H1609M1605.4 558.12H1609M1605.4 534.28H1609M1605.4 510.44H1609M1605.4 486.6H1609M1625.9 605.8V609.4M1651.3 605.8V609.4M1677 605.8V609.4M1719.5 605.8V609.4M1745 605.8V609.4M1770.5 605.8V609.4" class="tc"/>
<text transform="translate(1583.25 541.7) rotate(-90)" class="yl ylr">% from participants</text>
<rect x="1629" y="492.7" width="12" height="5.5" fill="#000"/>
<text x="1648.2" y="499.1" class="lg" textLength="33" lengthAdjust="spacingAndGlyphs">Normal</text>
<rect x="1720.75" y="493.45" width="10.5" height="4" fill="#a8a8a8" class="bs"/>
<text x="1739.5" y="499.1" class="lg" textLength="31.5" lengthAdjust="spacingAndGlyphs">Patient</text>
<text x="1625.9" y="621.4" class="xb" text-anchor="middle">0-19</text>
<text x="1651.3" y="621.4" class="xb" text-anchor="middle">20-29</text>
<text x="1677" y="621.4" class="xb" text-anchor="middle">30-</text>
<text x="1719.5" y="621.4" class="xb" text-anchor="middle">0-19</text>
<text x="1745" y="621.4" class="xb" text-anchor="middle">20-29</text>
<text x="1770.5" y="621.4" class="xb" text-anchor="middle">30-</text>
</g>
</svg>
</body>
</html>
